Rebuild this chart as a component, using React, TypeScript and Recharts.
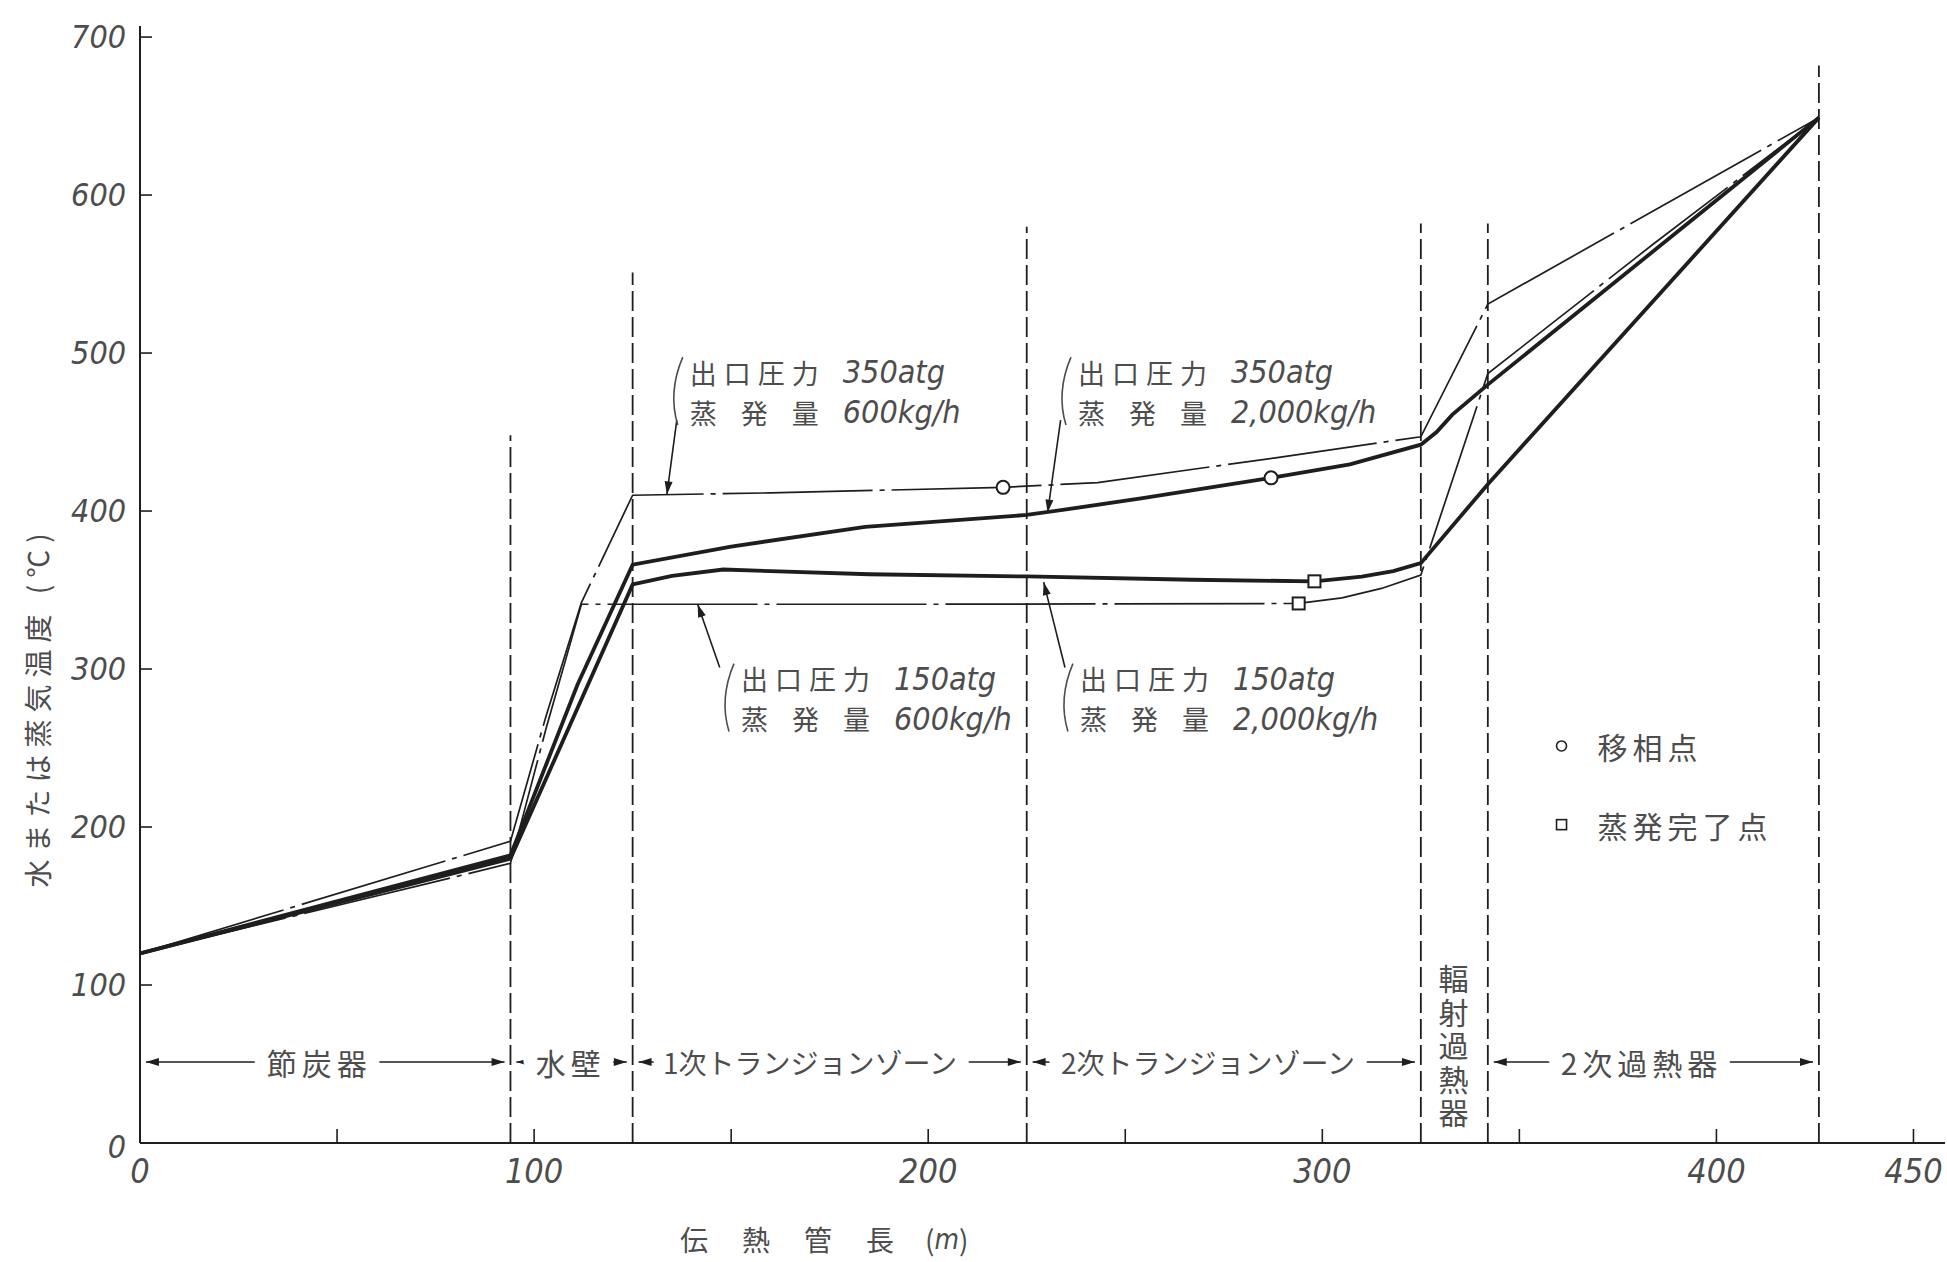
import {
  ComposedChart,
  Line,
  Scatter,
  XAxis,
  YAxis,
  ReferenceLine,
  ReferenceDot,
} from "recharts";

const W = 1947;
const H = 1262;

const INK = "#1e1e1e";
const GREY = "#4d4d4d";
const NUM_FONT = "'DejaVu Sans Condensed', 'DejaVu Sans', sans-serif";
const JP_FONT = "'Noto Sans CJK JP', sans-serif";

// tube length (m) -> water / steam temperature (°C)
// 出口圧力 350atg, 蒸発量 600kg/h  (thin chain line)
const lenA = [0, 94, 103, 112, 125, 160, 219, 243, 289, 325, 342, 426];
const tempA = [120, 191, 270, 342, 410, 411.5, 415, 418, 434, 447, 531, 649];
// 出口圧力 350atg, 蒸発量 2,000kg/h  (thick)
const lenB = [0, 94, 111, 125, 150, 184, 225, 235, 254, 287, 307, 325, 329, 333, 342, 426];
const tempB = [120, 182, 290, 366, 377.5, 390, 397.5, 401, 408, 421, 429.5, 442, 450, 461, 480, 649];
// 出口圧力 150atg, 蒸発量 600kg/h  (thin chain line)
const lenC = [0, 94, 103, 112, 200, 294, 305, 315, 325, 342, 384, 426];
const tempC = [120, 177, 262, 341, 341, 341.5, 345, 351, 359.5, 487, 569, 649];
// 出口圧力 150atg, 蒸発量 2,000kg/h  (thick)
const lenD = [0, 94, 125, 135, 148, 160, 185, 225, 267, 298, 310, 318, 325, 342, 426];
const tempD = [120, 180, 353.5, 359, 363, 362, 360, 358.6, 356.5, 355.5, 358.5, 362, 367, 417, 649];

// 移相点 (circles) and 蒸発完了点 (squares)
const phaseLen = [219, 287];
const phaseTemp = [415, 421];
const dryLen = [294, 298];
const dryTemp = [341.5, 355.5];

// section boundaries (dashed)
const boundaryLen = [94, 125, 225, 325, 342, 426];
const boundaryTop = [448, 551, 580, 582, 582, 682];

// section names along the bottom
const zoneNames = ["節炭器", "水壁", "1次トランジョンゾーン", "2次トランジョンゾーン", "2次過熱器"];
const zoneFrom = [0, 94, 125, 225, 342];
const zoneTo = [94, 125, 225, 325, 426];
const zoneTextLen = [45.5, 109.3, 170, 271, 381];
const zoneKanji = [true, true, false, false, true];
const zoneTemp = 51.3;
const radiantName = "輻射過熱器";
const radiantLen = 333.3;
const radiantTopTemp = 104;

// curve annotations
const annoPressure = ["350atg", "350atg", "150atg", "150atg"];
const annoSteam = ["600kg/h", "2,000kg/h", "600kg/h", "2,000kg/h"];
const annoLen = [139.5, 238, 152.5, 238.5];
const annoTemp = [475.3, 475.3, 281.3, 281.3];
const leaderFrom = [[136.2, 457.6], [233.6, 457.6], [147.1, 301], [234.7, 301]];
const leaderTo = [[133.7, 410.5], [230.3, 399], [141.5, 341], [229.3, 355]];

// legend
const legendLabels = ["移相点", "蒸発完了点"];
const legendLen = 360.7;
const legendTemp = [251.3, 201.5];

const xTicks = [0, 50, 100, 150, 200, 250, 300, 350, 400, 450];
const xTickLabels = [0, 100, 200, 300, 400, 450];
const yTicks = [0, 100, 200, 300, 400, 500, 600, 700];

const toPts = (xs: number[], ys: number[]) => xs.map((x, i) => ({ x, y: ys[i] }));

function arrowHead(x: number, y: number, fx: number, fy: number, len = 13, half = 4) {
  const dx = x - fx;
  const dy = y - fy;
  const d = Math.hypot(dx, dy) || 1;
  const ux = dx / d;
  const uy = dy / d;
  const bx = x - ux * len;
  const by = y - uy * len;
  return `${x},${y} ${bx - uy * half},${by + ux * half} ${bx + uy * half},${by - ux * half}`;
}

const arrowLine = (both: boolean) => (p: any) => {
  const { x1, y1, x2, y2 } = p;
  return (
    <g>
      <line x1={x1} y1={y1} x2={x2} y2={y2} stroke={INK} strokeWidth={1.6} />
      <polygon points={arrowHead(x2, y2, x1, y1)} fill={INK} />
      {both && <polygon points={arrowHead(x1, y1, x2, y2)} fill={INK} />}
    </g>
  );
};

// two-line note beside a curve
const annotationShape = (pressure: string, steam: string) => (p: any) => {
  const { cx, cy } = p;
  return (
    <g fill={GREY}>
      <path
        d={`M${cx - 7},${cy - 35} Q${cx - 22},${cy} ${cx - 12},${cy + 33}`}
        stroke={GREY}
        strokeWidth={1.6}
        fill="none"
      />
      <text x={cx} y={cy - 20} dominantBaseline="central" fontFamily={JP_FONT} fontSize={27} letterSpacing={7}>
        出口圧力
      </text>
      <text x={cx + 153} y={cy - 20} dominantBaseline="central" fontFamily={NUM_FONT} fontStyle="italic" fontSize={32}>
        {pressure}
      </text>
      <text x={cx} y={cy + 20} dominantBaseline="central" fontFamily={JP_FONT} fontSize={27} letterSpacing={24}>
        蒸発量
      </text>
      <text x={cx + 153} y={cy + 20} dominantBaseline="central" fontFamily={NUM_FONT} fontStyle="italic" fontSize={32}>
        {steam}
      </text>
    </g>
  );
};

const zoneLabelShape = (name: string, kanji: boolean) => (p: any) => (
  <text
    x={p.cx}
    y={p.cy}
    textAnchor="middle"
    dominantBaseline="central"
    fontFamily={JP_FONT}
    fontSize={kanji ? 30 : 28}
    letterSpacing={kanji ? 5 : 0}
    fill={GREY}
    stroke="#fff"
    strokeWidth={28}
    strokeLinejoin="round"
    paintOrder="stroke"
  >
    {name}
  </text>
);

// vertical label, one text element written top to bottom
const radiantShape = (p: any) => (
  <text
    x={p.cx}
    y={p.cy - 15}
    fontFamily={JP_FONT}
    fontSize={30}
    letterSpacing={3.6}
    fill={GREY}
    style={{ writingMode: "vertical-rl" }}
  >
    {radiantName}
  </text>
);

const legendShape = (kind: string, label: string) => (p: any) => (
  <g>
    {kind === "circle" ? (
      <circle cx={p.cx} cy={p.cy} r={5} fill="#fff" stroke={INK} strokeWidth={1.6} />
    ) : (
      <rect x={p.cx - 5} y={p.cy - 5} width={10} height={10} fill="#fff" stroke={INK} strokeWidth={1.6} />
    )}
    <text x={p.cx + 36} y={p.cy} dominantBaseline="central" fontFamily={JP_FONT} fontSize={30} letterSpacing={5} fill={GREY}>
      {label}
    </text>
  </g>
);

const renderXTick = (p: any) => {
  const { x, y, payload } = p;
  const show = xTickLabels.includes(payload.value);
  return (
    <g>
      <line x1={x} x2={x} y1={y} y2={y - 14} stroke={INK} strokeWidth={1.6} />
      {show && (
        <text x={x} y={y + 28} textAnchor="middle" dominantBaseline="central" fontFamily={NUM_FONT} fontStyle="italic" fontSize={34} fill={GREY}>
          {payload.value}
        </text>
      )}
    </g>
  );
};

const renderYTick = (p: any) => {
  const { x, y, payload } = p;
  return (
    <g>
      <line x1={x} x2={x + 12} y1={y} y2={y} stroke={INK} strokeWidth={1.6} />
      <text x={x - 14} y={y + (payload.value === 0 ? 4 : 0)} textAnchor="end" dominantBaseline="central" fontFamily={NUM_FONT} fontStyle="italic" fontSize={32} fill={GREY}>
        {payload.value}
      </text>
    </g>
  );
};

const xTitle = (props: any) => {
  const vb = props.viewBox ?? { x: 140, y: 1143 };
  return (
    <text y={vb.y + 96} dominantBaseline="central" fontFamily={JP_FONT} fontSize={28} fill={GREY}>
      <tspan x={vb.x + 540} letterSpacing={34}>伝熱管長</tspan>
      <tspan x={vb.x + 785}>(</tspan>
      <tspan fontFamily={NUM_FONT} fontStyle="italic">m</tspan>
      <tspan>)</tspan>
    </text>
  );
};

const yTitle = (props: any) => {
  const vb = props.viewBox ?? { x: 80, y: 26 };
  return (
    <text
      transform={`translate(${vb.x - 43}, ${vb.y + 681}) rotate(-90)`}
      textAnchor="middle"
      dominantBaseline="central"
      fontFamily={JP_FONT}
      fontSize={28}
      letterSpacing={7}
      fill={GREY}
    >
      水または蒸気温度 (℃)
    </text>
  );
};

const chainDash = "150 7 5 7";

export default function App() {
  return (
    <div style={{ position: "absolute", left: 0, top: 0, width: W, height: H, background: "#fff" }}>
      <ComposedChart width={W} height={H} margin={{ top: 26, right: 2, bottom: 59, left: 80 }}>
        <XAxis
          type="number"
          dataKey="x"
          domain={[0, 458]}
          ticks={xTicks}
          interval={0}
          allowDataOverflow
          tick={renderXTick}
          tickLine={false}
          tickSize={0}
          tickMargin={0}
          axisLine={{ stroke: INK, strokeWidth: 2 }}
          height={60}
          label={{ content: xTitle }}
        />
        <YAxis
          type="number"
          dataKey="y"
          domain={[0, 707]}
          ticks={yTicks}
          interval={0}
          allowDataOverflow
          tick={renderYTick}
          tickLine={false}
          tickSize={0}
          tickMargin={0}
          axisLine={{ stroke: INK, strokeWidth: 2 }}
          width={60}
          label={{ content: yTitle }}
        />

        {boundaryLen.map((x, i) => (
          <ReferenceLine
            key={`b${i}`}
            segment={[{ x, y: 0 }, { x, y: boundaryTop[i] }]}
            stroke={INK}
            strokeWidth={1.8}
            strokeDasharray="20 6"
          />
        ))}

        {zoneNames.map((n, i) => (
          <ReferenceLine
            key={`za${i}`}
            segment={[{ x: zoneFrom[i] + 1.5, y: zoneTemp }, { x: zoneTo[i] - 1.5, y: zoneTemp }]}
            shape={arrowLine(true)}
          />
        ))}
        {zoneNames.map((n, i) => (
          <ReferenceDot key={`zl${i}`} x={zoneTextLen[i]} y={zoneTemp} shape={zoneLabelShape(n, zoneKanji[i])} />
        ))}
        <ReferenceDot x={radiantLen} y={radiantTopTemp} shape={radiantShape} />

        <Line data={toPts(lenA, tempA)} dataKey="y" type="linear" stroke={INK} strokeWidth={1.7} strokeDasharray={chainDash} dot={false} isAnimationActive={false} />
        <Line data={toPts(lenC, tempC)} dataKey="y" type="linear" stroke={INK} strokeWidth={1.7} strokeDasharray={chainDash} dot={false} isAnimationActive={false} />
        <Line data={toPts(lenB, tempB)} dataKey="y" type="linear" stroke={INK} strokeWidth={3.8} dot={false} isAnimationActive={false} />
        <Line data={toPts(lenD, tempD)} dataKey="y" type="linear" stroke={INK} strokeWidth={3.8} dot={false} isAnimationActive={false} />

        <Scatter
          data={toPts(phaseLen, phaseTemp)}
          dataKey="y"
          isAnimationActive={false}
          shape={(p: any) => <circle cx={p.cx} cy={p.cy} r={6.5} fill="#fff" stroke={INK} strokeWidth={2} />}
        />
        <Scatter
          data={toPts(dryLen, dryTemp)}
          dataKey="y"
          isAnimationActive={false}
          shape={(p: any) => <rect x={p.cx - 6} y={p.cy - 6} width={12} height={12} fill="#fff" stroke={INK} strokeWidth={2} />}
        />

        {annoLen.map((x, i) => (
          <ReferenceLine
            key={`ld${i}`}
            segment={[{ x: leaderFrom[i][0], y: leaderFrom[i][1] }, { x: leaderTo[i][0], y: leaderTo[i][1] }]}
            shape={arrowLine(false)}
          />
        ))}
        {annoLen.map((x, i) => (
          <ReferenceDot key={`an${i}`} x={x} y={annoTemp[i]} shape={annotationShape(annoPressure[i], annoSteam[i])} />
        ))}

        {legendLabels.map((l, i) => (
          <ReferenceDot key={`lg${i}`} x={legendLen} y={legendTemp[i]} shape={legendShape(i === 0 ? "circle" : "square", l)} />
        ))}
      </ComposedChart>
    </div>
  );
}
